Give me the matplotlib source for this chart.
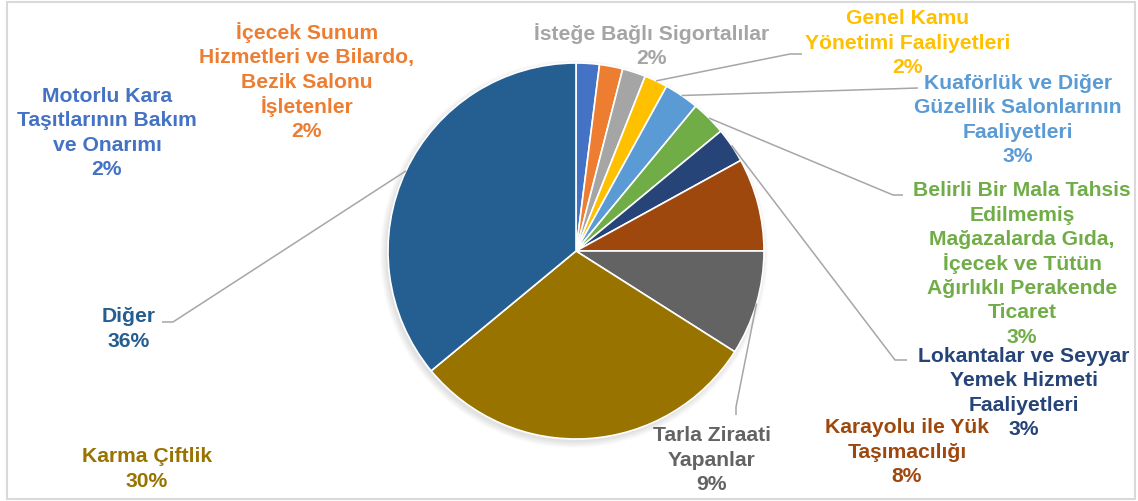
import numpy as np
import matplotlib.pyplot as plt
from matplotlib.patches import Circle, Rectangle

W, H = 1138, 501

labels = ['Motorlu Kara\nTaşıtlarının Bakım\nve Onarımı',
          'İçecek Sunum\nHizmetleri ve Bilardo,\nBezik Salonu\nİşletenler',
          'İsteğe Bağlı Sigortalılar',
          'Genel Kamu\nYönetimi Faaliyetleri',
          'Kuaförlük ve Diğer\nGüzellik Salonlarının\nFaaliyetleri',
          'Belirli Bir Mala Tahsis\nEdilmemiş\nMağazalarda Gıda,\nİçecek ve Tütün\nAğırlıklı Perakende\nTicaret',
          'Lokantalar ve Seyyar\nYemek Hizmeti\nFaaliyetleri',
          'Karayolu ile Yük\nTaşımacılığı',
          'Tarla Ziraati\nYapanlar',
          'Karma Çiftlik',
          'Diğer']
values = [2, 2, 2, 2, 3, 3, 3, 8, 9, 30, 36]
colors = ['#4472C4', '#ED7D31', '#A5A5A5', '#FFC000', '#5B9BD5', '#70AD47',
          '#264478', '#9E480E', '#636363', '#997300', '#255E91']

# label centres in pixels (from top-left)
label_pos = [(107, 131), (307, 80), (652, 44), (908, 41), (1018, 118),
             (1022, 262), (1024, 391), (907, 450), (712, 458), (147, 467),
             (129, 327)]

# leader lines: (slice index, elbow point, end point) in pixels
leaders = [(3, (790, 54), (802, 54)),
           (4, (918, 88), (918, 88)),
           (5, (893, 195), (903, 195)),
           (6, (895, 360), (907, 360)),
           (8, (736, 407), (736, 415)),
           (10, (173, 322), (162, 322))]

cx, cy, r = 576, 251, 188
pitch = 24.5


def fy(y):
    return H - y


fig = plt.figure(figsize=(W / 100, H / 100), dpi=100)
ax = fig.add_axes([0, 0, 1, 1])

# soft shadow
for i in range(10):
    ax.add_patch(Circle((cx - 2, fy(cy) - 3), r + 6 - i * 0.7, color='black',
                        alpha=0.012, lw=0, zorder=0))

wedges, _ = ax.pie(values, colors=colors, startangle=90, counterclock=False,
                   center=(cx, fy(cy)), radius=r,
                   wedgeprops=dict(edgecolor='white', linewidth=1.2))

total = sum(values)
cum = np.cumsum([0] + values)
mid_angles = [(cum[i] + values[i] / 2) / total * 360 for i in range(len(values))]

for idx, elbow, end in leaders:
    a = np.radians(mid_angles[idx])
    sx = cx + r * np.sin(a)
    sy = cy - r * np.cos(a)
    ax.plot([sx, elbow[0], end[0]], [fy(sy), fy(elbow[1]), fy(end[1])],
            color='#A6A6A6', lw=1.1, zorder=3, solid_capstyle='butt')

for lab, v, c, (x, y) in zip(labels, values, colors, label_pos):
    lines = lab.split('\n') + [f'{v}%']
    n = len(lines)
    for i, line in enumerate(lines):
        ly = y + (i - (n - 1) / 2) * pitch
        ax.text(x, fy(ly), line, ha='center', va='center_baseline',
                color=c, fontsize=15.2, fontweight='bold',
                family='Liberation Sans', zorder=4)

ax.add_patch(Rectangle((7, fy(499)), 1128, 497, fill=False,
                       edgecolor='#D9D9D9', lw=1.5, zorder=5))

ax.set_xlim(0, W)
ax.set_ylim(0, H)
ax.set_aspect('auto')
ax.axis('off')

fig.savefig('out.png', dpi=100)
